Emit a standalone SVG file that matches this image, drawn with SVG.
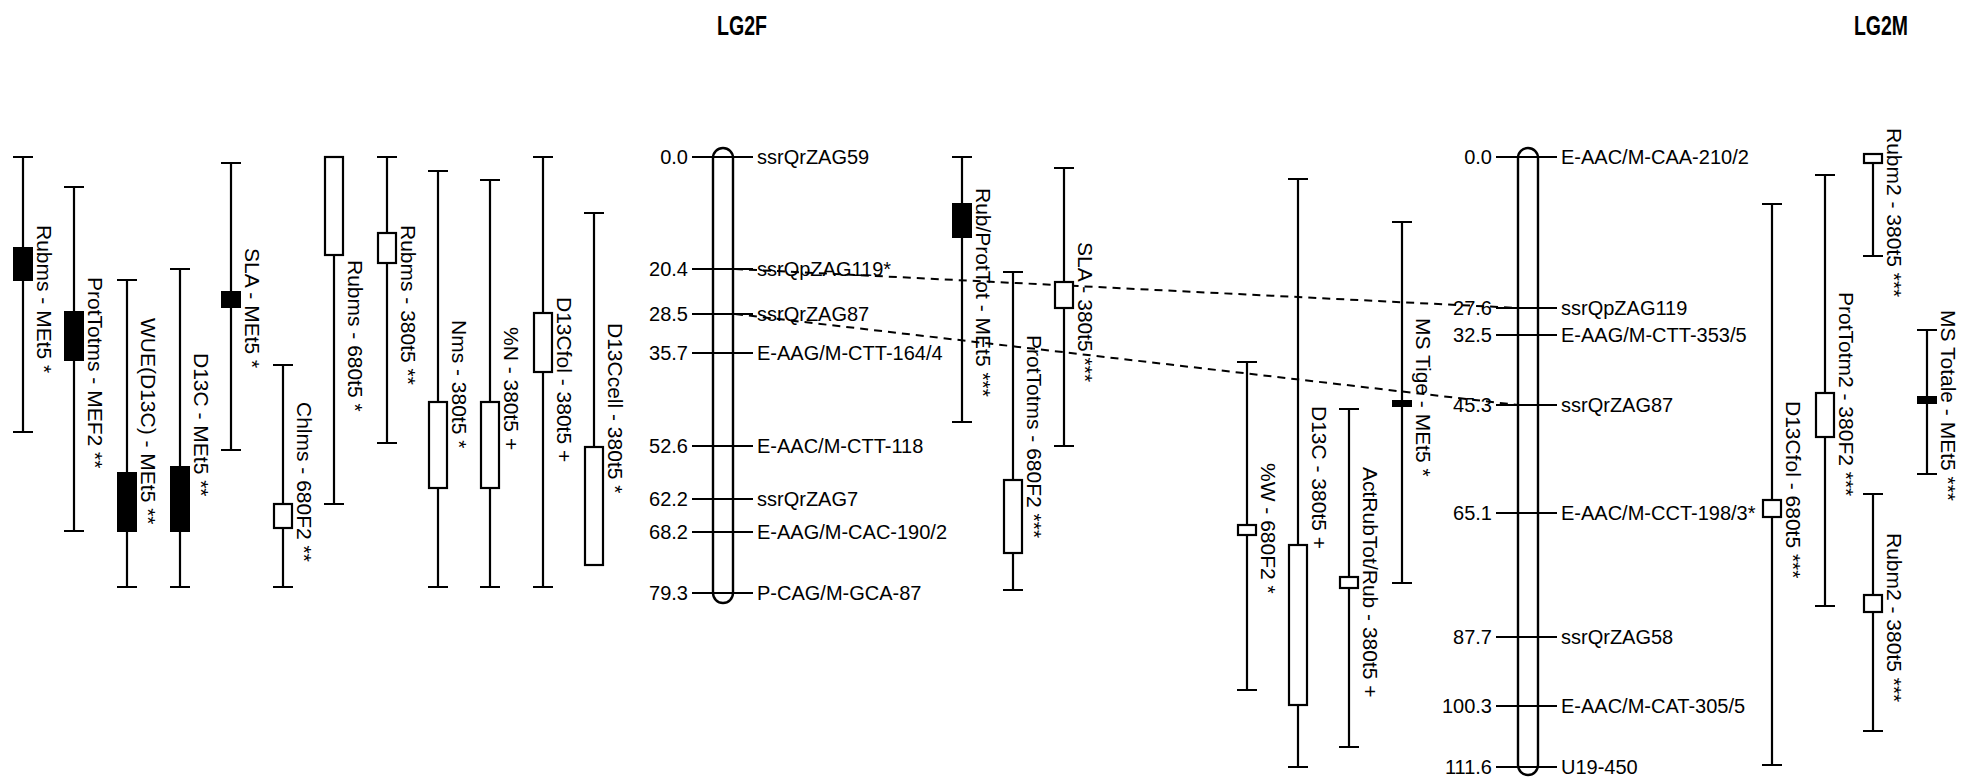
<svg xmlns="http://www.w3.org/2000/svg" width="1964" height="778" viewBox="0 0 1964 778">
<style>
.ln{stroke:#000;stroke-width:2.2;fill:none}
.bk{fill:#000;stroke:#000;stroke-width:2}
.wh{fill:#fff;stroke:#000;stroke-width:2.2}
.chr{fill:#fff;stroke:#000;stroke-width:2.4}
.t{font-family:"Liberation Sans",Arial,sans-serif;font-size:21px;fill:#000}
.m{font-size:20px}
.num{text-anchor:end}
.ttl{font-family:"Liberation Sans",Arial,sans-serif;font-size:28px;font-weight:bold;text-anchor:middle}
.dash{stroke:#000;stroke-width:2;stroke-dasharray:8 6;fill:none}
</style>
<rect width="1964" height="778" fill="#fff"/>
<text class="ttl" x="742" y="35" textLength="50" lengthAdjust="spacingAndGlyphs">LG2F</text>
<text class="ttl" x="1881" y="35" textLength="54" lengthAdjust="spacingAndGlyphs">LG2M</text>

<g id="LG2F">
<rect class="chr" x="713" y="148" width="20" height="455" rx="10"/>
<g class="ln">
<line x1="692" y1="157" x2="753" y2="157"/>
<line x1="692" y1="269" x2="753" y2="269"/>
<line x1="692" y1="314" x2="753" y2="314"/>
<line x1="692" y1="353" x2="753" y2="353"/>
<line x1="692" y1="446" x2="753" y2="446"/>
<line x1="692" y1="499" x2="753" y2="499"/>
<line x1="692" y1="532" x2="753" y2="532"/>
<line x1="692" y1="593" x2="753" y2="593"/>
</g>
<g class="t m num">
<text x="688" y="164">0.0</text>
<text x="688" y="276">20.4</text>
<text x="688" y="321">28.5</text>
<text x="688" y="360">35.7</text>
<text x="688" y="453">52.6</text>
<text x="688" y="506">62.2</text>
<text x="688" y="539">68.2</text>
<text x="688" y="600">79.3</text>
</g>
<g class="t m">
<text x="757" y="164">ssrQrZAG59</text>
<text x="757" y="276">ssrQpZAG119*</text>
<text x="757" y="321">ssrQrZAG87</text>
<text x="757" y="360">E-AAG/M-CTT-164/4</text>
<text x="757" y="453">E-AAC/M-CTT-118</text>
<text x="757" y="506">ssrQrZAG7</text>
<text x="757" y="539">E-AAG/M-CAC-190/2</text>
<text x="757" y="600">P-CAG/M-GCA-87</text>
</g>
</g>

<g id="LG2M">
<rect class="chr" x="1518" y="148" width="20" height="627" rx="10"/>
<g class="ln">
<line x1="1496" y1="157" x2="1557" y2="157"/>
<line x1="1496" y1="308" x2="1557" y2="308"/>
<line x1="1496" y1="335" x2="1557" y2="335"/>
<line x1="1496" y1="405" x2="1557" y2="405"/>
<line x1="1496" y1="513" x2="1557" y2="513"/>
<line x1="1496" y1="637" x2="1557" y2="637"/>
<line x1="1496" y1="706" x2="1557" y2="706"/>
<line x1="1496" y1="767" x2="1557" y2="767"/>
</g>
<g class="t m num">
<text x="1492" y="164">0.0</text>
<text x="1492" y="315">27.6</text>
<text x="1492" y="342">32.5</text>
<text x="1492" y="412">45.3</text>
<text x="1492" y="520">65.1</text>
<text x="1492" y="644">87.7</text>
<text x="1492" y="713">100.3</text>
<text x="1492" y="774">111.6</text>
</g>
<g class="t m">
<text x="1561" y="164">E-AAC/M-CAA-210/2</text>
<text x="1561" y="315">ssrQpZAG119</text>
<text x="1561" y="342">E-AAG/M-CTT-353/5</text>
<text x="1561" y="412">ssrQrZAG87</text>
<text x="1561" y="520">E-AAC/M-CCT-198/3*</text>
<text x="1561" y="644">ssrQrZAG58</text>
<text x="1561" y="713">E-AAC/M-CAT-305/5</text>
<text x="1561" y="774">U19-450</text>
</g>
</g>

<g id="connectors">
<line class="dash" x1="735" y1="269" x2="1518" y2="308"/>
<line class="dash" x1="735" y1="314" x2="1518" y2="405"/>
</g>

<g id="qtl1"><path class="ln" d="M23 157V432M13 157H33M13 432H33"/><rect class="bk" x="14" y="248" width="18" height="32"/><text class="t" transform="translate(37,225) rotate(90)">Rubms - MEt5 *</text></g>
<g id="qtl2"><path class="ln" d="M74 187V531M64 187H84M64 531H84"/><rect class="bk" x="65" y="312" width="18" height="48"/><text class="t" transform="translate(88,277) rotate(90)">ProtTotms - MEF2 **</text></g>
<g id="qtl3"><path class="ln" d="M127 280V587M117 280H137M117 587H137"/><rect class="bk" x="118" y="473" width="18" height="58"/><text class="t" transform="translate(141,318) rotate(90)">WUE(D13C) - MEt5 **</text></g>
<g id="qtl4"><path class="ln" d="M180 269V587M170 269H190M170 587H190"/><rect class="bk" x="171" y="467" width="18" height="64"/><text class="t" transform="translate(194,353) rotate(90)">D13C - MEt5 **</text></g>
<g id="qtl5"><path class="ln" d="M231 163V450M221 163H241M221 450H241"/><rect class="bk" x="222" y="292" width="18" height="15"/><text class="t" transform="translate(245,248) rotate(90)">SLA - MEt5 *</text></g>
<g id="qtl6"><path class="ln" d="M283 365V587M273 365H293M273 587H293"/><rect class="wh" x="274" y="504" width="18" height="24"/><text class="t" transform="translate(297,402) rotate(90)">Chlms - 680F2 **</text></g>
<g id="qtl7"><path class="ln" d="M334 255V504M324 504H344"/><rect class="wh" x="325" y="157" width="18" height="98"/><text class="t" transform="translate(348,260) rotate(90)">Rubms - 680t5 *</text></g>
<g id="qtl8"><path class="ln" d="M387 157V443M377 157H397M377 443H397"/><rect class="wh" x="378" y="233" width="18" height="30"/><text class="t" transform="translate(401,225) rotate(90)">Rubms - 380t5 **</text></g>
<g id="qtl9"><path class="ln" d="M438 171V587M428 171H448M428 587H448"/><rect class="wh" x="429" y="402" width="18" height="86"/><text class="t" transform="translate(452,320) rotate(90)">Nms - 380t5 *</text></g>
<g id="qtl10"><path class="ln" d="M490 180V587M480 180H500M480 587H500"/><rect class="wh" x="481" y="402" width="18" height="86"/><text class="t" transform="translate(504,327) rotate(90)">%N - 380t5 +</text></g>
<g id="qtl11"><path class="ln" d="M543 157V587M533 157H553M533 587H553"/><rect class="wh" x="534" y="313" width="18" height="59"/><text class="t" transform="translate(557,297) rotate(90)">D13Cfol - 380t5 +</text></g>
<g id="qtl12"><path class="ln" d="M594 213V447M584 213H604"/><rect class="wh" x="585" y="447" width="18" height="118"/><text class="t" transform="translate(608,323) rotate(90)">D13Ccell - 380t5 *</text></g>
<g id="qtl13"><path class="ln" d="M962 157V422M952 157H972M952 422H972"/><rect class="bk" x="953" y="204" width="18" height="33"/><text class="t" transform="translate(976,188) rotate(90)">Rub/ProtTot - MEt5 ***</text></g>
<g id="qtl14"><path class="ln" d="M1013 272V590M1003 272H1023M1003 590H1023"/><rect class="wh" x="1004" y="480" width="18" height="73"/><text class="t" transform="translate(1027,335) rotate(90)">ProtTotms - 680F2 ***</text></g>
<g id="qtl15"><path class="ln" d="M1064 168V446M1054 168H1074M1054 446H1074"/><rect class="wh" x="1055" y="282" width="18" height="26"/><text class="t" transform="translate(1078,242) rotate(90)">SLA - 380t5 ***</text></g>
<g id="qtl16"><path class="ln" d="M1247 362V690M1237 362H1257M1237 690H1257"/><rect class="wh" x="1238" y="525" width="18" height="10"/><text class="t" transform="translate(1261,463) rotate(90)">%W - 680F2 *</text></g>
<g id="qtl17"><path class="ln" d="M1298 179V767M1288 179H1308M1288 767H1308"/><rect class="wh" x="1289" y="545" width="18" height="160"/><text class="t" transform="translate(1312,406) rotate(90)">D13C - 380t5 +</text></g>
<g id="qtl18"><path class="ln" d="M1349 409V747M1339 409H1359M1339 747H1359"/><rect class="wh" x="1340" y="577" width="18" height="11"/><text class="t" transform="translate(1363,467) rotate(90)">ActRubTot/Rub - 380t5 +</text></g>
<g id="qtl19"><path class="ln" d="M1402 222V583M1392 222H1412M1392 583H1412"/><rect class="bk" x="1393" y="401" width="18" height="5"/><text class="t" transform="translate(1416,318) rotate(90)">MS Tige - MEt5 *</text></g>
<g id="qtl20"><path class="ln" d="M1772 204V765M1762 204H1782M1762 765H1782"/><rect class="wh" x="1763" y="500" width="18" height="17"/><text class="t" transform="translate(1786,401) rotate(90)">D13Cfol - 680t5 ***</text></g>
<g id="qtl21"><path class="ln" d="M1825 175V606M1815 175H1835M1815 606H1835"/><rect class="wh" x="1816" y="393" width="18" height="44"/><text class="t" transform="translate(1839,292) rotate(90)">ProtTotm2 - 380F2 ***</text></g>
<g id="qtl22"><path class="ln" d="M1873 163V256M1863 256H1883"/><rect class="wh" x="1864" y="154" width="18" height="9"/><text class="t" transform="translate(1887,128) rotate(90)">Rubm2 - 380t5 ***</text></g>
<g id="qtl23"><path class="ln" d="M1927 330V474M1917 330H1937M1917 474H1937"/><rect class="bk" x="1918" y="397" width="18" height="6"/><text class="t" transform="translate(1941,310) rotate(90)">MS Totale - MEt5 ***</text></g>
<g id="qtl24"><path class="ln" d="M1873 494V731M1863 494H1883M1863 731H1883"/><rect class="wh" x="1864" y="595" width="18" height="17"/><text class="t" transform="translate(1887,533) rotate(90)">Rubm2 - 380t5 ***</text></g>
</svg>
